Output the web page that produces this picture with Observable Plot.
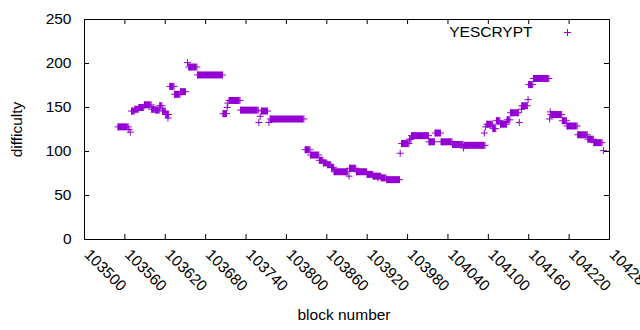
<!DOCTYPE html>
<html>
<head>
<meta charset="utf-8">
<script src="https://cdn.jsdelivr.net/npm/d3@7"></script>
<script src="https://cdn.jsdelivr.net/npm/@observablehq/plot@0.6"></script>
<style>
  html, body { margin: 0; padding: 0; background: #fff; }
  #chart { width: 640px; height: 330px; overflow: hidden; }
</style>
</head>
<body>
<div id="chart"></div>
<script>
// Runs of consecutive blocks sharing one difficulty value
const runStart = [103550,103566,103568,103570,103575,103581,103589,103600,103606,103612,103616,103621,103624,103627,103634,103643,103653,103655,103668,103706,103712,103713,103715,103732,103759,103761,103763,103774,103776,103828,103836,103849,103855,103861,103867,103871,103893,103894,103904,103920,103929,103936,103941,103949,103969,103971,103983,103986,104012,104021,104030,104047,104060,104063,104064,104094,104096,104098,104107,104112,104118,104128,104133,104146,104149,104150,104159,104160,104167,104191,104192,104193,104210,104217,104233,104248,104257,104271];
const runEnd = [103565,103566,103568,103574,103580,103588,103599,103605,103611,103615,103620,103625,103624,103633,103642,103650,103653,103667,103705,103711,103712,103713,103731,103758,103759,103761,103772,103774,103826,103835,103848,103854,103860,103866,103870,103891,103893,103903,103919,103928,103940,103936,103948,103968,103969,103982,103985,104011,104020,104029,104046,104059,104062,104063,104095,104094,104096,104106,104111,104117,104127,104132,104145,104146,104149,104158,104159,104166,104190,104191,104192,104209,104216,104232,104247,104256,104269,104271];
const runValue = [128,125,122,146,148,150,153,148,147,152,146,142,138,174,165,168,201,196,187,143,150,155,158,147,133,140,146,133,137,102,96,90,87,85,82,77,72,81,77,74,72,70,70,68,98,109,114,118,111,121,111,108,108,104,107,121,128,131,126,135,131,136,144,133,148,152,159,176,183,137,145,142,135,129,119,114,110,101];

const xTicks = [103500,103560,103620,103680,103740,103800,103860,103920,103980,104040,104100,104160,104220,104280];
const yTicks = [0,50,100,150,200,250];
const seriesName = "YESCRYPT";
const xLabel = "block number";
const yLabel = "difficulty";

const purple = "#9400d3";
const runs = runStart.map((s, i) => ({s, e: runEnd[i], v: runValue[i]}));
const points = runs.flatMap(r => r.s === r.e ? [{b: r.s, v: r.v}] : [{b: r.s, v: r.v}, {b: r.e, v: r.v}]);

const H = 3.5;
const plusSymbol = {
  draw(ctx) {
    ctx.moveTo(-H, 0); ctx.lineTo(H, 0);
    ctx.moveTo(0, -H); ctx.lineTo(0, H);
  }
};

const marginLeft = 84, marginRight = 31, marginTop = 19, marginBottom = 91;
const W = 640, HT = 330;
const plotH = HT - marginTop - marginBottom;
const plotW = W - marginLeft - marginRight;
const tl = 5;

const chart = Plot.plot({
  width: W, height: HT,
  marginLeft, marginRight, marginTop, marginBottom,
  style: {fontFamily: "'Liberation Sans', Arial, sans-serif", fontSize: "15.5px", background: "white", overflow: "visible"},
  x: {domain: [103500, 104280], axis: null},
  y: {domain: [0, 250], axis: null},
  marks: [
    Plot.ruleY(runs, {y: "v", x1: "s", x2: "e", stroke: purple, strokeWidth: 7}),
    Plot.dot(points, {x: "b", y: "v", symbol: plusSymbol, fill: "none", stroke: purple, strokeWidth: 1}),
    // ticks (inward, mirrored)
    Plot.tickX(xTicks, {x: d => d, insetTop: plotH - tl, stroke: "black"}),
    Plot.tickX(xTicks, {x: d => d, insetBottom: plotH - tl, stroke: "black"}),
    Plot.tickY(yTicks, {y: d => d, insetRight: plotW - tl, stroke: "black"}),
    Plot.tickY(yTicks, {y: d => d, insetLeft: plotW - tl, stroke: "black"}),
    Plot.frame({stroke: "black"}),
    // tick labels
    Plot.text(yTicks, {y: d => d, text: d => String(d), frameAnchor: "left", dx: -13, textAnchor: "end", lineAnchor: "middle"}),
    Plot.text(xTicks, {x: d => d, text: d => String(d), frameAnchor: "bottom", dy: 16, dx: -1, rotate: 45, textAnchor: "start", lineAnchor: "bottom"}),
    // axis titles
    Plot.text([yLabel], {text: d => d, frameAnchor: "left", dx: -67, rotate: -90, textAnchor: "middle", lineAnchor: "middle"}),
    Plot.text([xLabel], {text: d => d, frameAnchor: "bottom", dy: 76, dx: -3, textAnchor: "middle", lineAnchor: "middle"}),
    // legend
    Plot.text([seriesName], {text: d => d, frameAnchor: "top-right", dx: -77, dy: 13, textAnchor: "end", lineAnchor: "middle"}),
    Plot.dot([seriesName], {frameAnchor: "top-right", dx: -42, dy: 13, symbol: plusSymbol, fill: "none", stroke: purple, strokeWidth: 1})
  ]
});
document.getElementById("chart").appendChild(chart);
</script>
</body>
</html>
